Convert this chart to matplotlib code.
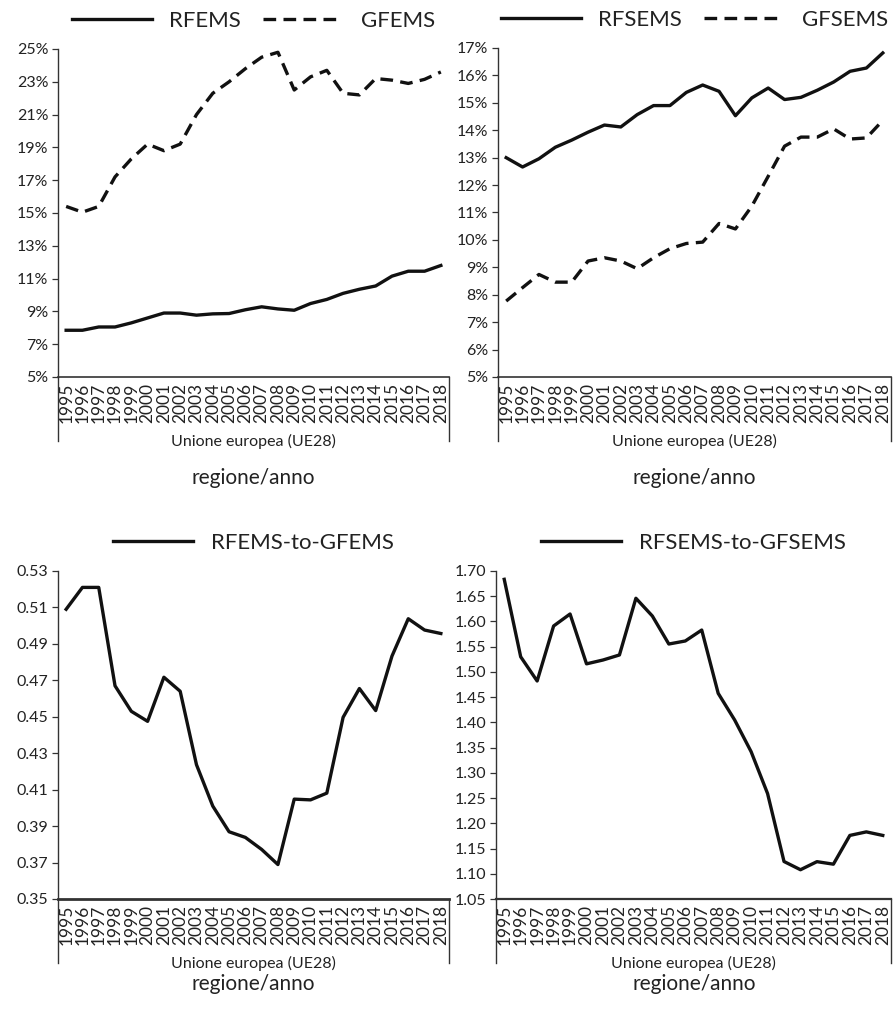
import matplotlib
matplotlib.use("Agg")
import matplotlib.pyplot as plt
from matplotlib.ticker import FixedLocator, FormatStrFormatter
from matplotlib.lines import Line2D

plt.rcParams["font.family"] = ["Lato", "DejaVu Sans"]

anni = [str(a) for a in range(1995, 2019)]

rfems = [7.85, 7.85, 8.05, 8.05, 8.3, 8.6, 8.9, 8.9, 8.77, 8.85, 8.87, 9.1,
         9.28, 9.15, 9.07, 9.48, 9.73, 10.1, 10.35, 10.55, 11.15, 11.45, 11.45, 11.8]
gfems = [15.4, 15.05, 15.4, 17.2, 18.3, 19.2, 18.8, 19.2, 21.0, 22.3, 23.0, 23.8,
         24.5, 24.8, 22.5, 23.3, 23.7, 22.3, 22.2, 23.2, 23.1, 22.9, 23.15, 23.6]

rfsems = [13.0, 12.66, 12.96, 13.38, 13.64, 13.93, 14.19, 14.12, 14.57, 14.9, 14.9, 15.38,
          15.65, 15.42, 14.53, 15.18, 15.54, 15.12, 15.2, 15.46, 15.76, 16.15, 16.27, 16.82]
gfsems = [7.77, 8.26, 8.74, 8.46, 8.46, 9.23, 9.35, 9.23, 8.95, 9.35, 9.68, 9.87,
          9.92, 10.6, 10.4, 11.23, 12.32, 13.42, 13.75, 13.75, 14.05, 13.68, 13.72, 14.36]

ratio_fems = [0.509, 0.521, 0.521, 0.467, 0.453, 0.4475, 0.4717, 0.464, 0.4237, 0.401,
              0.3869, 0.3838, 0.3772, 0.3689, 0.4048, 0.4044, 0.4081, 0.4497, 0.4655,
              0.4534, 0.4833, 0.5038, 0.4976, 0.4957]
ratio_fsems = [1.6835, 1.530, 1.482, 1.591, 1.6148, 1.516, 1.5236, 1.5336, 1.646, 1.6108,
               1.5553, 1.5613, 1.583, 1.4576, 1.4048, 1.342, 1.259, 1.1243, 1.108, 1.124,
               1.119, 1.176, 1.183, 1.176]

gruppo = "Unione europea (UE28)"
xlab = "regione/anno"

W, H = 893, 1009
fig = plt.figure(figsize=(W / 100, H / 100), dpi=100)

def px_axes(x0, x1, y0, y1):
    return fig.add_axes([x0 / W, 1 - y1 / H, (x1 - x0) / W, (y1 - y0) / H])

ax1 = px_axes(58, 449, 49, 377)
ax2 = px_axes(498, 891, 48, 377)
ax3 = px_axes(58, 449, 571, 899)
ax4 = px_axes(496, 891, 571, 899)

col = "#111111"
dash = (0, (3.8, 2.2))
lw = 2.4

ax1.plot(anni, rfems, color=col, lw=lw, label="RFEMS")
ax1.plot(anni, gfems, color=col, lw=lw, ls=dash, label="GFEMS")
ax2.plot(anni, rfsems, color=col, lw=lw, label="RFSEMS")
ax2.plot(anni, gfsems, color=col, lw=lw, ls=dash, label="GFSEMS")
ax3.plot(anni, ratio_fems, color=col, lw=lw, label="RFEMS-to-GFEMS")
ax4.plot(anni, ratio_fsems, color=col, lw=lw, label="RFSEMS-to-GFSEMS")

ax1.set_ylim(5, 25)
ax1.yaxis.set_major_locator(FixedLocator(range(5, 26, 2)))
ax1.yaxis.set_major_formatter(FormatStrFormatter("%d%%"))
ax2.set_ylim(5, 17)
ax2.yaxis.set_major_locator(FixedLocator(range(5, 18)))
ax2.yaxis.set_major_formatter(FormatStrFormatter("%d%%"))
ax3.set_ylim(0.35, 0.53)
ax3.yaxis.set_major_locator(FixedLocator([0.35 + 0.02 * i for i in range(10)]))
ax3.yaxis.set_major_formatter(FormatStrFormatter("%.2f"))
ax4.set_ylim(1.05, 1.70)
ax4.yaxis.set_major_locator(FixedLocator([1.05 + 0.05 * i for i in range(14)]))
ax4.yaxis.set_major_formatter(FormatStrFormatter("%.2f"))

for ax, hpx, thick in [(ax1, 328, 1.2), (ax2, 329, 1.2), (ax3, 328, 2.0), (ax4, 328, 1.6)]:
    ax.set_xlim(-0.5, len(anni) - 0.5)
    for s in ["top", "right"]:
        ax.spines[s].set_visible(False)
    ax.spines["left"].set_color("#333333")
    ax.spines["left"].set_linewidth(1.0)
    ax.spines["bottom"].set_color("#333333")
    ax.spines["bottom"].set_linewidth(thick)
    ax.tick_params(axis="y", length=4, width=0.9, color="#333333", labelsize=11.5,
                   labelcolor="#222222", pad=3)
    ax.tick_params(axis="x", length=0, labelsize=12.5, labelcolor="#222222", pad=4,
                   labelrotation=90)
    # group box below the axis
    depth = 64 / hpx
    for xx in (0, 1):
        ax.add_line(Line2D([xx, xx], [0, -depth], transform=ax.transAxes,
                           color="#333333", lw=1.0, clip_on=False))
    ax.text(0.5, -depth, gruppo, transform=ax.transAxes, ha="center", va="center",
            fontsize=11.5, color="#222222")
    leg = ax.legend(loc="center", bbox_to_anchor=(0.5, 1 + 28 / hpx), ncol=2,
                    frameon=False, fontsize=16, handlelength=3.6,
                    handletextpad=0.8, columnspacing=1.0)
    for t in leg.get_texts():
        t.set_color("#222222")

for xc in (253, 694):
    for yc in (478, 984):
        fig.text(xc / W, 1 - yc / H, xlab, ha="center", va="center",
                 fontsize=15, color="#222222")

fig.savefig("out.png", dpi=100)
